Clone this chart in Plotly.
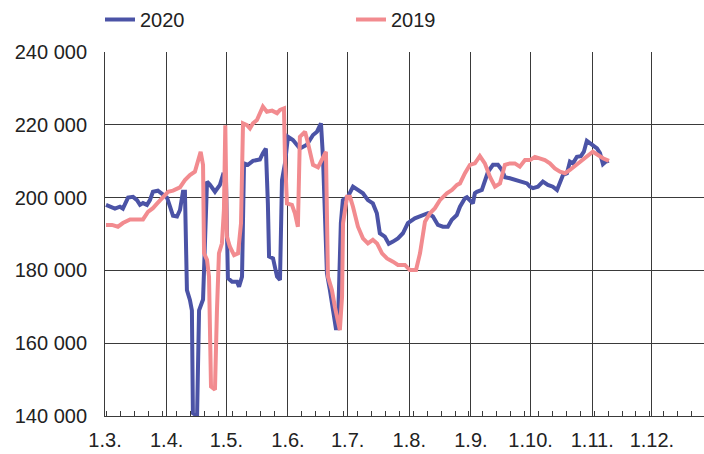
import pandas as pd
import plotly.graph_objects as go

# Days since 1 March (x position on the common calendar axis)
days_2020 = [0.5, 2.5, 5.0, 7.5, 9.0, 11.6, 14.1, 16.1, 17.6, 19.1, 21.1, 22.6, 24.1, 26.6, 29.2,
             31.2, 32.7, 34.2, 36.2, 37.7, 39.2, 40.2, 41.2, 42.7, 43.7, 44.2, 46.3, 47.3, 49.3,
             51.3, 52.8, 55.3, 57.8, 59.3, 60.8, 61.8, 63.9, 66.4, 67.4, 68.9, 69.9, 71.9, 74.4,
             77.9, 79.4, 80.9, 81.9, 82.5, 84.5, 86.5, 88.0, 89.0, 90.5, 92.0, 94.5, 98.0, 101.5,
             104.6, 106.6, 108.6, 109.6, 111.6, 113.1, 114.6, 116.1, 117.1, 118.6, 119.6, 122.1,
             124.7, 127.2, 129.7, 132.2, 134.7, 136.7, 138.2, 140.7, 142.7, 144.8, 147.3, 149.8,
             152.3, 155.8, 159.4, 162.4, 164.9, 167.4, 169.9, 172.4, 174.4, 176.9, 178.5, 181.0,
             182.0, 183.5, 185.0, 186.0, 187.0, 189.5, 191.0, 192.6, 195.1, 197.6, 199.6, 201.1,
             203.6, 207.1, 209.7, 212.2, 213.7, 215.2, 217.7, 220.2, 222.7, 225.2, 227.3, 228.8,
             230.3, 232.3, 233.8, 235.3, 237.3, 239.3, 240.8, 242.3, 244.8, 247.4, 248.9, 250.4,
             251.9, 253.4]
values_2020 = [198000, 197500, 197000, 197500, 197000, 200000, 200200, 199300, 198000, 198500,
               198000, 199300, 201600, 201900, 200700, 200000, 197500, 195000, 194800, 196600,
               201600, 201600, 174600, 171900, 169000, 140800, 140000, 169000, 172000, 204400,
               203500, 201600, 203500, 206200, 205700, 177900, 176900, 176900, 175500, 178300,
               209400, 209000, 210100, 210500, 212200, 213500, 198400, 183800, 183300, 178300,
               177400, 204800, 209400, 216700, 215800, 213500, 214500, 217200, 218100, 220400,
               211200, 179200, 174600, 170000, 164100, 164100, 193000, 199300, 200200, 203000,
               202100, 201200, 199300, 198400, 195700, 190200, 189300, 187300, 187900, 188800,
               190200, 193000, 194300, 195200, 195700, 194800, 192500, 192000, 192000, 193900,
               195200, 197500, 199800, 200100, 199300, 198400, 201200, 201600, 202100, 204400,
               207100, 209000, 209000, 207600, 205600, 205300, 204800, 204400, 203900, 203000,
               202600, 203000, 204400, 203500, 203000, 202100, 204400, 206200, 206700, 209900,
               209400, 211200, 211400, 212600, 215600, 214700, 213500, 212200, 209200, 209900,
               210100]

days_2019 = [0.5, 3.5, 6.5, 9.0, 12.6, 16.1, 19.1, 21.6, 24.1, 26.6, 29.2, 31.7, 34.2, 37.7, 40.2,
             42.7, 45.2, 46.8, 48.1, 49.3, 49.8, 51.3, 52.3, 53.3, 55.3, 56.3, 57.3, 58.8, 59.8,
             60.5, 61.3, 62.8, 64.9, 66.9, 68.4, 69.4, 71.4, 72.9, 74.4, 76.4, 77.9, 79.4, 81.4,
             84.0, 86.5, 88.0, 90.0, 90.5, 91.5, 94.0, 95.5, 97.0, 98.0, 100.6, 102.1, 104.6,
             107.1, 109.6, 111.1, 112.1, 114.1, 115.6, 117.1, 118.1, 119.2, 119.7, 121.7, 123.2,
             124.7, 127.2, 129.7, 132.2, 134.7, 136.8, 139.3, 141.8, 144.8, 147.3, 150.8, 153.3,
             156.4, 158.4, 160.9, 163.4, 165.9, 168.4, 171.9, 174.5, 177.0, 178.5, 181.0, 183.5,
             186.0, 188.5, 191.0, 193.6, 196.1, 198.6, 201.1, 203.6, 206.1, 208.6, 211.2, 213.7,
             216.2, 218.7, 221.2, 223.7, 226.2, 228.8, 231.3, 233.8, 236.3, 238.8, 241.3, 243.8,
             245.3, 247.9, 250.4, 253.4]
values_2019 = [192500, 192500, 192000, 193000, 194000, 193900, 194000, 196100, 197100, 198600,
               200200, 201600, 201900, 202800, 204800, 206200, 207100, 209900, 212600, 209000,
               184700, 182900, 178300, 148100, 147200, 169100, 184700, 187400, 196600, 219900,
               189300, 186500, 184200, 184700, 193000, 220400, 219900, 219000, 220400, 221300,
               223200, 225000, 223600, 223900, 223200, 224100, 224500, 211200, 198400, 198000,
               195700, 192000, 216700, 218100, 214900, 209000, 208300, 210800, 212600, 178300,
               174600, 170000, 165500, 163600, 172800, 193000, 200200, 200200, 197500, 192000,
               188800, 187400, 188400, 187400, 184700, 183300, 182400, 181500, 181500, 180100,
               180100, 184700, 193400, 195700, 197100, 199300, 201200, 202100, 203500, 203900,
               206700, 209000, 209400, 211400, 209400, 205700, 203000, 203900, 209000, 209400,
               209400, 208500, 210300, 210300, 211200, 210800, 210300, 209400, 208000, 207100,
               206700, 207600, 208700, 209900, 210800, 212200, 212600, 211700, 210800, 210100]

month_ticks = ["2020-03-01", "2020-04-01", "2020-05-01", "2020-06-01", "2020-07-01",
               "2020-08-01", "2020-09-01", "2020-10-01", "2020-11-01", "2020-12-01"]
month_labels = ["1.3.", "1.4.", "1.5.", "1.6.", "1.7.", "1.8.", "1.9.", "1.10.", "1.11.", "1.12."]
y_ticks = [140000, 160000, 180000, 200000, 220000, 240000]

base = pd.Timestamp("2020-03-01")
x2020 = base + pd.to_timedelta(days_2020, unit="D")
x2019 = base + pd.to_timedelta(days_2019, unit="D")

FONT = "Liberation Sans, Arial, sans-serif"
GRID = "#3a3a3a"
TEXT = "#222222"

fig = go.Figure()
fig.add_trace(go.Scatter(x=x2020, y=values_2020, mode="lines", name="2020",
                         line=dict(color="#4b53a6", width=4), legend="legend"))
fig.add_trace(go.Scatter(x=x2019, y=values_2019, mode="lines", name="2019",
                         line=dict(color="#f28b8f", width=4), legend="legend2"))

legend_common = dict(orientation="h", xanchor="left", y=1.0, yanchor="top",
                     xref="container", yref="container",
                     font=dict(size=20, color=TEXT), bgcolor="rgba(0,0,0,0)",
                     borderwidth=0)

fig.update_layout(
    width=704, height=454,
    margin=dict(l=105, r=0, t=52, b=38, autoexpand=False),
    paper_bgcolor="white", plot_bgcolor="white",
    separators=", ",
    font=dict(family=FONT, size=20, color=TEXT),
    showlegend=True,
    legend=dict(x=100 / 704, **legend_common),
    legend2=dict(x=351 / 704, **legend_common),
)
fig.update_xaxes(
    type="date", automargin=False,
    range=["2020-03-01", "2020-12-27 05:00"],
    tickvals=month_ticks, ticktext=month_labels,
    showgrid=True, gridcolor=GRID, gridwidth=1,
    showline=True, linecolor=GRID, linewidth=1,
    ticks="inside", ticklen=5, tickcolor=GRID,
    minor=dict(ticks="inside", ticklen=5, tickcolor=GRID, dtick=7 * 86400000,
               tick0="2020-03-02", showgrid=False),
    ticklabelstandoff=6,
    zeroline=False,
)
fig.update_yaxes(
    range=[140000, 240000], automargin=False,
    tickvals=y_ticks, tickformat=",.0f",
    showgrid=True, gridcolor=GRID, gridwidth=1,
    showline=True, linecolor=GRID, linewidth=1,
    ticks="", ticklabelstandoff=13,
    zeroline=False,
)

fig.write_html("out.html", config={"displayModeBar": False},
               post_script="document.body.style.margin = '0';")
